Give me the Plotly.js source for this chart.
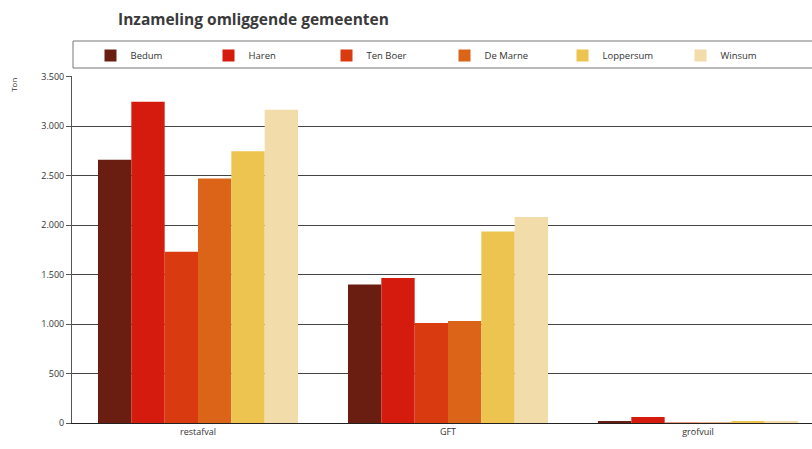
<!DOCTYPE html>
<html>
<head>
<meta charset="utf-8">
<script src="https://cdn.plot.ly/plotly-3.0.1.min.js"></script>
<style>html,body{margin:0;padding:0;background:#fff}#chart{width:812px;height:449px}</style>
</head>
<body>
<div id="chart"></div>
<script>
const categories = ["restafval", "GFT", "grofvuil"];
const seriesNames = ["Bedum", "Haren", "Ten Boer", "De Marne", "Loppersum", "Winsum"];
const bedum = [2660, 1400, 20];
const haren = [3245, 1465, 60];
const tenBoer = [1730, 1010, 5];
const deMarne = [2470, 1030, 5];
const loppersum = [2745, 1935, 20];
const winsum = [3165, 2080, 20];
const colors = ["#6a1e12", "#d51a0e", "#d93a10", "#dc6418", "#eec451", "#f1dcaa"];
const yTicks = [0, 500, 1000, 1500, 2000, 2500, 3000, 3500];

const values = [bedum, haren, tenBoer, deMarne, loppersum, winsum];
const traces = seriesNames.map((n, i) => ({
  type: "bar",
  name: n,
  x: categories,
  y: values[i],
  marker: {color: colors[i], line: {width: 0}},
  hoverinfo: "name+y"
}));

const layout = {
  width: 812, height: 449,
  margin: {l: 72, r: 0, t: 76, b: 26},
  paper_bgcolor: "#fff", plot_bgcolor: "#fff",
  separators: ",.",
  barmode: "group", bargap: 0.2, bargroupgap: 0,
  font: {family: "Open Sans, Liberation Sans, sans-serif", size: 9, color: "#444"},
  title: {text: "<b>Inzameling omliggende gemeenten</b>", x: 118/812, xanchor: "left", y: 1 - 20/449, yanchor: "middle",
          font: {family: "Open Sans, sans-serif", size: 15.5, color: "#3a3a3a"}},
  xaxis: {type: "category", range: [-0.504, 2.456], showline: true, linecolor: "#222", linewidth: 1,
          ticks: "", tickfont: {size: 9, color: "#333"}, showgrid: false, zeroline: false, fixedrange: true},
  yaxis: {range: [0, 3505], tickvals: yTicks, tickformat: ",d", ticks: "outside", ticklen: 5, tickcolor: "#555",
          showline: true, linecolor: "#555", linewidth: 1, gridcolor: "#444", gridwidth: 1,
          tickfont: {size: 9, color: "#333"}, zeroline: false, fixedrange: true},
  legend: {orientation: "h", x: 0.025, xanchor: "left", y: 1.101, yanchor: "top",
           bgcolor: "rgba(0,0,0,0)", borderwidth: 0,
           entrywidth: 73, entrywidthmode: "pixels",
           font: {size: 9.5, color: "#333"}, traceorder: "normal"},
  shapes: [{type: "rect", xref: "paper", yref: "paper", x0: 1/740, x1: 1.2,
            y0: 1 + (76 - 68)/347, y1: 1 + (76 - 41)/347, line: {color: "#777", width: 1}, fillcolor: "rgba(0,0,0,0)"}],
  annotations: [{text: "Ton", xref: "paper", yref: "paper", x: -0.08, y: 1.0, xanchor: "center", yanchor: "top",
                 textangle: -90, showarrow: false, font: {size: 8, color: "#333"}}]
};

Plotly.newPlot("chart", traces, layout, {displayModeBar: false, staticPlot: true});
</script>
</body>
</html>
